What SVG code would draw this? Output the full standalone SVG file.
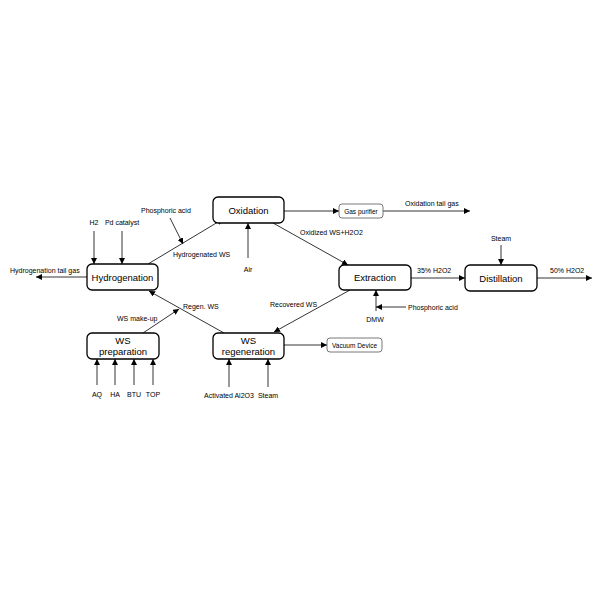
<svg xmlns="http://www.w3.org/2000/svg" width="600" height="600" viewBox="0 0 600 600">
<defs>
<marker id="ah" markerUnits="userSpaceOnUse" markerWidth="7" markerHeight="6" refX="6" refY="3" orient="auto">
<path d="M0,0 L6,3 L0,6 Z" fill="#000"/>
</marker>
<style>
.box{fill:#fff;stroke:#000;stroke-width:1.3}
.sbox{fill:#fff;stroke:#555;stroke-width:0.8}
.bt{font-family:"Liberation Sans",Arial,sans-serif;font-size:9.5px;text-anchor:middle;fill:#000}
.st{font-family:"Liberation Sans",Arial,sans-serif;font-size:6.5px;text-anchor:middle;fill:#000}
.lb{font-family:"Liberation Sans",Arial,sans-serif;font-size:7px;fill:#000}
.c{stroke:#000;stroke-width:0.8;fill:none;marker-end:url(#ah)}
.cn{stroke:#000;stroke-width:0.8;fill:none}
</style>
</defs>
<rect width="600" height="600" fill="#fff"/>
<g id="connectors">
<line class="c" x1="94" y1="231" x2="94" y2="264"/>
<line class="c" x1="122" y1="231" x2="122" y2="264"/>
<line class="c" x1="87" y1="277" x2="36" y2="277"/>
<line class="c" x1="148" y1="264" x2="223" y2="219"/>
<line class="c" x1="170" y1="218" x2="183" y2="244"/>
<line class="c" x1="248" y1="258" x2="248" y2="223"/>
<line class="c" x1="284" y1="211" x2="339" y2="211"/>
<line class="c" x1="383" y1="211" x2="470" y2="211"/>
<line class="c" x1="273" y1="223" x2="348" y2="265"/>
<line class="c" x1="411" y1="278" x2="465" y2="278"/>
<line class="c" x1="501" y1="245" x2="501" y2="265"/>
<line class="c" x1="537" y1="278" x2="592" y2="278"/>
<line class="c" x1="376" y1="311" x2="376" y2="290"/>
<line class="c" x1="406" y1="307" x2="376" y2="307"/>
<line class="c" x1="350" y1="290" x2="274" y2="332"/>
<line class="c" x1="224" y1="333" x2="149" y2="291"/>
<line class="c" x1="143" y1="333" x2="179" y2="309"/>
<line class="c" x1="284" y1="345" x2="327" y2="345"/>
<line class="c" x1="229" y1="387" x2="229" y2="359"/>
<line class="c" x1="268" y1="387" x2="268" y2="359"/>
<line class="c" x1="97" y1="385" x2="97" y2="359"/>
<line class="c" x1="115" y1="385" x2="115" y2="359"/>
<line class="c" x1="134" y1="385" x2="134" y2="359"/>
<line class="c" x1="153" y1="385" x2="153" y2="359"/>
</g>
<g id="hydrogenation">
<rect class="box" x="87" y="264" width="71" height="26" rx="5"/>
<text class="bt" x="122.5" y="280.5">Hydrogenation</text>
</g>
<g id="oxidation">
<rect class="box" x="213" y="197" width="71" height="26" rx="5"/>
<text class="bt" x="248.5" y="213.5">Oxidation</text>
</g>
<g id="gas-purifier">
<rect class="sbox" x="339" y="204" width="44" height="14" rx="3"/>
<text class="st" x="361" y="213.5">Gas purifier</text>
</g>
<g id="extraction">
<rect class="box" x="339" y="265" width="72" height="25" rx="5"/>
<text class="bt" x="375" y="281">Extraction</text>
</g>
<g id="distillation">
<rect class="box" x="465" y="265" width="72" height="26" rx="5"/>
<text class="bt" x="501" y="281.5">Distillation</text>
</g>
<g id="ws-preparation">
<rect class="box" x="87" y="333" width="72" height="26" rx="5"/>
<text class="bt" x="123" y="344">WS</text>
<text class="bt" x="123" y="355">preparation</text>
</g>
<g id="ws-regeneration">
<rect class="box" x="213" y="333" width="71" height="26" rx="5"/>
<text class="bt" x="248.5" y="344">WS</text>
<text class="bt" x="248.5" y="355">regeneration</text>
</g>
<g id="vacuum-device">
<rect class="sbox" x="327" y="338" width="55" height="14" rx="3"/>
<text class="st" x="354.5" y="347.5">Vacuum Device</text>
</g>
<g id="labels">
<text class="lb" x="94" y="225" text-anchor="middle">H2</text>
<text class="lb" x="122" y="225" text-anchor="middle">Pd catalyst</text>
<text class="lb" x="10" y="273">Hydrogenation tail gas</text>
<text class="lb" x="141" y="213">Phosphoric acid</text>
<text class="lb" x="173" y="257">Hydrogenated WS</text>
<text class="lb" x="248" y="272" text-anchor="middle">Air</text>
<text class="lb" x="405" y="206">Oxidation tail gas</text>
<text class="lb" x="300" y="235">Oxidized WS+H2O2</text>
<text class="lb" x="417" y="273">35% H2O2</text>
<text class="lb" x="501" y="241" text-anchor="middle">Steam</text>
<text class="lb" x="550" y="273">50% H2O2</text>
<text class="lb" x="408" y="309.5">Phosphoric acid</text>
<text class="lb" x="375" y="322" text-anchor="middle">DMW</text>
<text class="lb" x="270" y="307">Recovered WS</text>
<text class="lb" x="183" y="309">Regen. WS</text>
<text class="lb" x="117" y="321">WS make-up</text>
<text class="lb" x="97" y="397" text-anchor="middle">AQ</text>
<text class="lb" x="115" y="397" text-anchor="middle">HA</text>
<text class="lb" x="134" y="397" text-anchor="middle">BTU</text>
<text class="lb" x="153" y="397" text-anchor="middle">TOP</text>
<text class="lb" x="229" y="398" text-anchor="middle">Activated Al2O3</text>
<text class="lb" x="268" y="398" text-anchor="middle">Steam</text>
</g>
</svg>
